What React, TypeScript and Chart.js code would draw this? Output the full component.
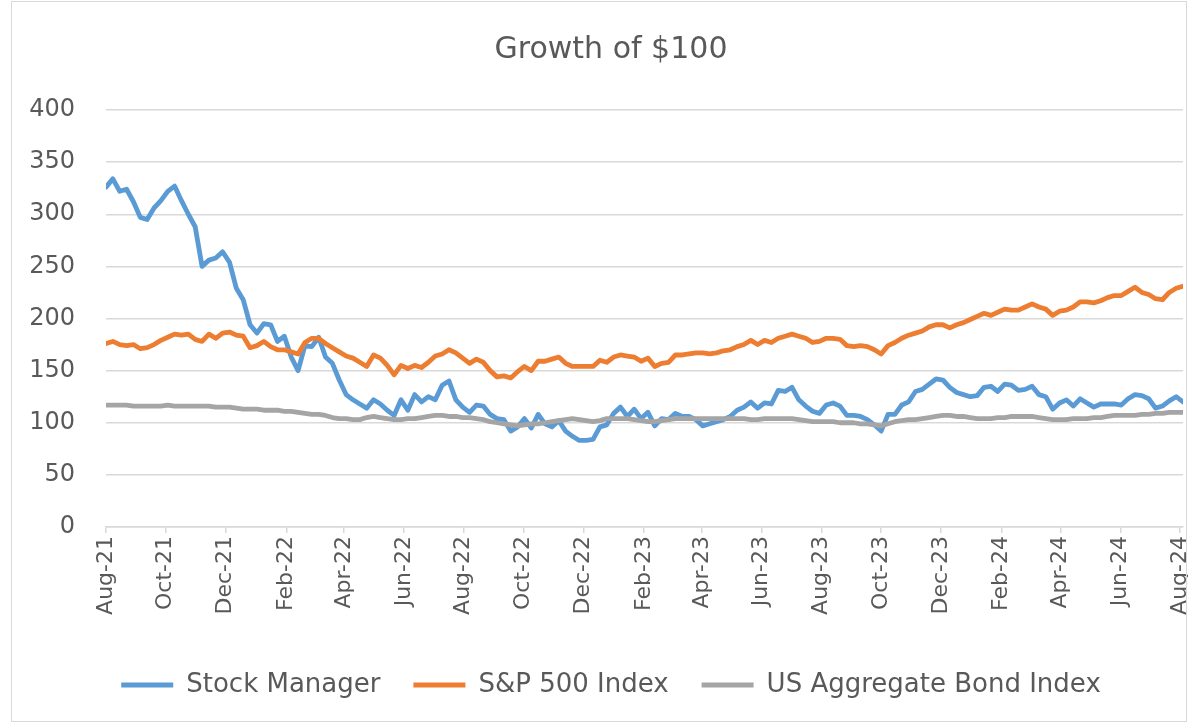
import React, { useEffect, useRef } from "react";
import { Chart, registerables, LinearScale } from "chart.js";

Chart.register(...registerables);

// Value axis whose tick labels are not clipped to the axis box
class LinearNoClip extends LinearScale {
  static id = "linearNoClip";
  static defaults = LinearScale.defaults;
  _computeLabelArea() {
    return undefined;
  }
}
Chart.register(LinearNoClip);

// Weekly observations, first one on 6 Aug 2021
const startDate = [2021, 7, 6];
const weekStep = 7;

const tickLabels = [
  "Aug-21", "Oct-21", "Dec-21", "Feb-22", "Apr-22", "Jun-22", "Aug-22", "Oct-22", "Dec-22", "Feb-23",
  "Apr-23", "Jun-23", "Aug-23", "Oct-23", "Dec-23", "Feb-24", "Apr-24", "Jun-24", "Aug-24",
];

const seriesNames = ["Stock Manager", "S&P 500 Index", "US Aggregate Bond Index"];

const stockManager = [
  326, 334, 322, 324, 312, 297, 295, 306, 313, 322,
  327, 313, 300, 288, 250, 256, 258, 264, 254, 229,
  218, 194, 186, 195, 194, 178, 183, 163, 150, 174,
  173, 182, 163, 157, 141, 127, 122, 118, 114, 122,
  118, 112, 107, 122, 112, 127, 120, 125, 122, 136,
  140, 122, 115, 110, 117, 116, 108, 104, 103, 92,
  96, 104, 95, 108, 99, 96, 102, 92, 87, 83,
  83, 84, 96, 98, 109, 115, 106, 113, 104, 110,
  97, 104, 103, 109, 106, 106, 103, 97, 99, 101,
  103, 106, 112, 115, 120, 114, 119, 118, 131, 130,
  134, 122, 116, 111, 109, 117, 119, 116, 107, 107,
  106, 103, 98, 92, 108, 108, 117, 120, 130, 132,
  137, 142, 141, 134, 129, 127, 125, 126, 134, 135,
  130, 137, 136, 131, 132, 135, 127, 125, 113, 119,
  122, 116, 123, 119, 115, 118, 118, 118, 117, 123,
  127, 126, 123, 114, 116, 121, 125, 120,
];

const sp500 = [
  176, 178, 175, 174, 175, 171, 172, 175, 179, 182,
  185, 184, 185, 180, 178, 185, 181, 186, 187, 184,
  183, 172, 174, 178, 173, 170, 170, 168, 166, 177,
  181, 181, 176, 172, 168, 164, 162, 158, 154, 165,
  162, 155, 146, 155, 152, 155, 153, 158, 164, 166,
  170, 167, 162, 157, 161, 158, 150, 144, 145, 143,
  149, 154, 150, 159, 159, 161, 163, 157, 154, 154,
  154, 154, 160, 158, 163, 165, 164, 163, 159, 162,
  154, 157, 158, 165, 165, 166, 167, 167, 166, 167,
  169, 170, 173, 175, 179, 175, 179, 177, 181, 183,
  185, 183, 181, 177, 178, 181, 181, 180, 174, 173,
  174, 173, 170, 166, 174, 177, 181, 184, 186, 188,
  192, 194, 194, 191, 194, 196, 199, 202, 205, 203,
  206, 209, 208, 208, 211, 214, 211, 209, 203, 207,
  208, 211, 216, 216, 215, 217, 220, 222, 222, 226,
  230, 225, 223, 219, 218, 225, 229, 231,
];

const bondIndex = [
  117, 117, 117, 117, 116, 116, 116, 116, 116, 117,
  116, 116, 116, 116, 116, 116, 115, 115, 115, 114,
  113, 113, 113, 112, 112, 112, 111, 111, 110, 109,
  108, 108, 107, 105, 104, 104, 103, 103, 105, 106,
  105, 104, 103, 103, 104, 104, 105, 106, 107, 107,
  106, 106, 105, 105, 104, 103, 101, 100, 99, 98,
  97, 98, 99, 99, 100, 101, 102, 103, 104, 103,
  102, 101, 102, 104, 104, 104, 104, 103, 102, 101,
  101, 102, 103, 104, 104, 104, 104, 104, 104, 104,
  104, 104, 104, 104, 103, 103, 104, 104, 104, 104,
  104, 103, 102, 101, 101, 101, 101, 100, 100, 100,
  99, 99, 98, 97, 99, 101, 102, 103, 103, 104,
  105, 106, 107, 107, 106, 106, 105, 104, 104, 104,
  105, 105, 106, 106, 106, 106, 105, 104, 103, 103,
  103, 104, 104, 104, 105, 105, 106, 107, 107, 107,
  107, 108, 108, 109, 109, 110, 110, 110,
];

const colors = ["#5B9BD5", "#ED7D31", "#A5A5A5"];
const TEXT = "#595959";
const GRID = "#D9D9D9";
const FONT = "'DejaVu Sans', sans-serif";
const MONTHS = ["Jan", "Feb", "Mar", "Apr", "May", "Jun", "Jul", "Aug", "Sep", "Oct", "Nov", "Dec"];

const DAY_MS = 86400000;
const startMs = Date.UTC(startDate[0], startDate[1], startDate[2]);
const tickDays = tickLabels.map((lab) => {
  const [mon, yy] = lab.split("-");
  const ms = Date.UTC(2000 + Number(yy), MONTHS.indexOf(mon), startDate[2]);
  return Math.round((ms - startMs) / DAY_MS);
});

export default function App() {
  const ref = useRef<HTMLCanvasElement>(null);

  useEffect(() => {
    const canvas = ref.current;
    if (!canvas) return;
    const toPoints = (arr: number[]) => arr.map((v, i) => ({ x: i * weekStep, y: v }));
    const lastX = (stockManager.length - 1) * weekStep;
    const PAD_L = 39;
    const chart = new Chart(canvas, {
      type: "line",
      data: {
        datasets: [
          { label: seriesNames[0], data: toPoints(stockManager), order: 2 },
          { label: seriesNames[1], data: toPoints(sp500), order: 1 },
          { label: seriesNames[2], data: toPoints(bondIndex), order: 0 },
        ].map((d, i) => ({
          ...d,
          borderColor: colors[i],
          backgroundColor: colors[i],
          borderWidth: 4.8,
          pointRadius: 0,
          pointHoverRadius: 0,
          tension: 0,
          borderJoinStyle: "round" as const,
          borderCapStyle: "round" as const,
          fill: false,
        })),
      },
      options: {
        responsive: false,
        animation: false,
        events: [],
        layout: { padding: { left: PAD_L, right: 5, top: 0, bottom: 15 } },
        plugins: {
          title: {
            display: true,
            text: "Growth of $100",
            color: TEXT,
            font: { family: FONT, size: 30, weight: "normal" },
            padding: { top: 32, bottom: 42 },
          },
          legend: {
            position: "bottom",
            labels: {
              color: TEXT,
              font: { family: FONT, size: 26 },
              boxWidth: 52,
              boxHeight: 5,
              padding: 33,
              sort: (a: any, b: any) => a.datasetIndex - b.datasetIndex,
              generateLabels: (c: any) =>
                Chart.defaults.plugins.legend.labels
                  .generateLabels(c)
                  .map((it: any) => ({ ...it, fillStyle: it.strokeStyle, lineWidth: 0 })),
            },
          },
          tooltip: { enabled: false },
        },
        scales: {
          x: {
            type: "linear",
            min: 0,
            max: lastX,
            afterBuildTicks: (s: any) => {
              s.ticks = tickDays.map((v) => ({ value: v }));
            },
            afterFit: (s: any) => {
              s.height = 112;
              s.paddingLeft = 0;
              s.paddingRight = 0;
            },
            ticks: {
              autoSkip: false,
              minRotation: 90,
              maxRotation: 90,
              padding: 3,
              color: TEXT,
              font: { family: FONT, size: 22 },
              callback: (_v: any, i: number) => tickLabels[i],
            },
            grid: {
              drawOnChartArea: false,
              drawTicks: true,
              tickLength: 6,
              color: GRID,
              lineWidth: 1.5,
            },
            border: { display: true, color: GRID, width: 1.5 },
          },
          y: {
            type: "linearNoClip",
            min: 0,
            max: 400,
            afterFit: (s: any) => {
              s.width = 106 - PAD_L;
            },
            ticks: {
              stepSize: 50,
              padding: 31,
              color: TEXT,
              font: { family: FONT, size: 24 },
            },
            grid: { color: GRID, lineWidth: 1.5, drawTicks: false },
            border: { display: false },
          },
        },
      },
    } as any);
    return () => chart.destroy();
  }, []);

  return (
    <div style={{ position: "absolute", left: 0, top: 0, width: 1188, height: 723, background: "#fff" }}>
      <canvas ref={ref} width={1188} height={723} style={{ display: "block" }} />
      <div
        style={{
          position: "absolute",
          left: 11,
          top: 1,
          width: 1174,
          height: 719,
          border: "1px solid #D9D9D9",
          pointerEvents: "none",
        }}
      />
    </div>
  );
}
